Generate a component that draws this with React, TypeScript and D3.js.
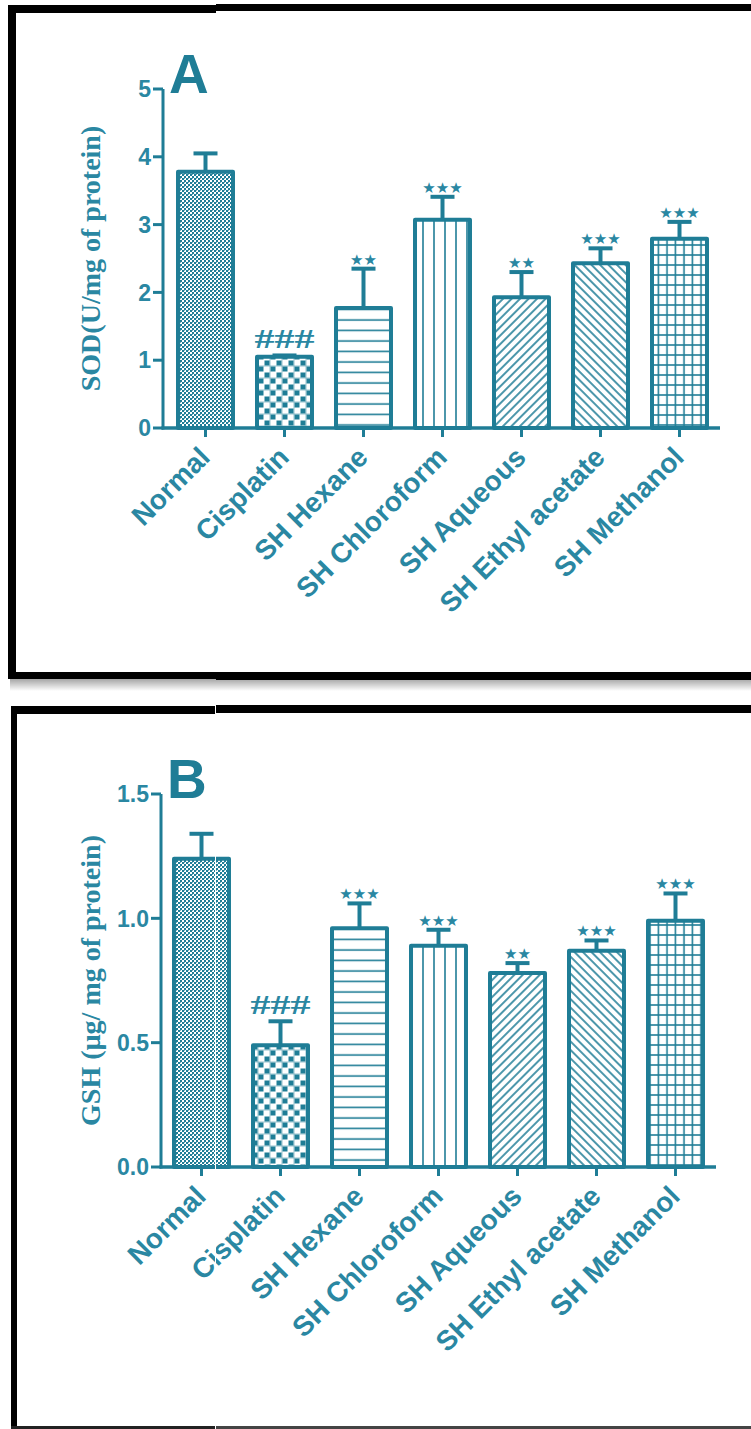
import React from "react";
import * as d3 from "d3";

const categories = ["Normal", "Cisplatin", "SH Hexane", "SH Chloroform", "SH Aqueous", "SH Ethyl acetate", "SH Methanol"];
const sodMean = [3.78, 1.05, 1.77, 3.07, 1.93, 2.43, 2.79];
const sodErr = [0.27, 0.02, 0.58, 0.34, 0.37, 0.22, 0.25];
const sodSig = ["", "###", "**", "***", "**", "***", "***"];
const sodTicks = [0, 1, 2, 3, 4, 5];
const gshMean = [1.24, 0.49, 0.96, 0.89, 0.78, 0.87, 0.99];
const gshErr = [0.1, 0.096, 0.1, 0.064, 0.04, 0.041, 0.11];
const gshSig = ["", "###", "***", "***", "**", "***", "***"];
const gshTicks = [0, 0.5, 1.0, 1.5];
const patternIds = ["pNormal", "pCis", "pHex", "pChl", "pAq", "pEth", "pMeth"];

const TEAL = "#1f7d96";
const TEXT = "#2a87a2";

function Patterns() {
  const sw = 1.6;
  return (
    <defs>
      <pattern id="pNormal" width="4" height="4" patternUnits="userSpaceOnUse">
        <rect width="4" height="4" fill="#ffffff" />
        <rect x="0" y="0" width="2" height="2" fill={TEAL} />
        <rect x="2" y="2" width="2" height="2" fill={TEAL} />
        <rect x="0" y="2" width="1" height="1" fill={TEAL} opacity="0.6" />
      </pattern>
      <pattern id="pCis" width="12" height="12" patternUnits="userSpaceOnUse">
        <rect width="12" height="12" fill="#ffffff" />
        <rect x="0.5" y="0.5" width="5" height="5" fill={TEAL} />
        <rect x="6.5" y="6.5" width="5" height="5" fill={TEAL} />
        <path d="M0,6 H12 M6,0 V12" stroke={TEAL} strokeWidth="0.8" opacity="0.6" />
      </pattern>
      <pattern id="pHex" width="10" height="10.5" patternUnits="userSpaceOnUse">
        <rect width="10" height="10.5" fill="#fff" />
        <line x1="0" y1="5" x2="10" y2="5" stroke={TEAL} strokeWidth={sw} />
      </pattern>
      <pattern id="pChl" width="11" height="10" patternUnits="userSpaceOnUse">
        <rect width="11" height="10" fill="#fff" />
        <line x1="5" y1="0" x2="5" y2="10" stroke={TEAL} strokeWidth={sw} />
      </pattern>
      <pattern id="pAq" width="6" height="6" patternUnits="userSpaceOnUse" patternTransform="rotate(45)">
        <rect width="6" height="6" fill="#fff" />
        <line x1="3" y1="0" x2="3" y2="6" stroke={TEAL} strokeWidth={sw} />
      </pattern>
      <pattern id="pEth" width="6" height="6" patternUnits="userSpaceOnUse" patternTransform="rotate(-45)">
        <rect width="6" height="6" fill="#fff" />
        <line x1="3" y1="0" x2="3" y2="6" stroke={TEAL} strokeWidth={sw} />
      </pattern>
      <pattern id="pMeth" width="8.5" height="10" patternUnits="userSpaceOnUse">
        <rect width="8.5" height="10" fill="#fff" />
        <line x1="4" y1="0" x2="4" y2="10" stroke={TEAL} strokeWidth={sw} />
        <line x1="0" y1="5" x2="8.5" y2="5" stroke={TEAL} strokeWidth={sw} />
      </pattern>
      <linearGradient id="shadow" x1="0" y1="0" x2="0" y2="1">
        <stop offset="0" stopColor="#000" stopOpacity="0.35" />
        <stop offset="1" stopColor="#000" stopOpacity="0" />
      </linearGradient>
    </defs>
  );
}

type PanelProps = {
  letter: string;
  ylabel: string;
  means: number[];
  errs: number[];
  sigs: string[];
  ticks: number[];
  tickFmt: (v: number) => string;
  yDomain: [number, number];
  yRange: [number, number];
  axisX: number;
  xRange: [number, number];
};

function Panel(p: PanelProps) {
  const y = d3.scaleLinear().domain(p.yDomain).range(p.yRange);
  const x = d3.scaleBand<string>().domain(categories).range(p.xRange).paddingInner(0.304).paddingOuter(0.152);
  const y0 = y(0);
  const bw = x.bandwidth();
  const axisEnd = p.xRange[1] + 1;
  const capW = 24;
  return (
    <g>
      {categories.map((c, i) => {
        const bx = x(c)!;
        const top = y(p.means[i]);
        const cx = bx + bw / 2;
        const et = y(p.means[i] + p.errs[i]);
        return (
          <g key={c}>
            <line x1={cx} x2={cx} y1={top} y2={et} stroke={TEAL} strokeWidth={4} />
            <line x1={cx - capW / 2} x2={cx + capW / 2} y1={et} y2={et} stroke={TEAL} strokeWidth={4} />
            <rect x={bx} y={top} width={bw} height={y0 - top} fill={`url(#${patternIds[i]})`} stroke={TEAL} strokeWidth={4} strokeLinejoin="round" />
            {p.sigs[i] === "###" ? (
              <text x={cx} y={et - 7} textAnchor="middle" fontFamily="'Liberation Serif', serif" fontWeight="bold" fontSize={28} fill={TEXT} textLength={60} lengthAdjust="spacingAndGlyphs">###</text>
            ) : p.sigs[i] ? (
              <text x={cx} y={et - 4} textAnchor="middle" fontFamily="'DejaVu Sans', sans-serif" fontSize={15} fill={TEXT}>{p.sigs[i].replace(/\*/g, "\u2605")}</text>
            ) : null}
          </g>
        );
      })}
      <line x1={p.axisX} x2={p.axisX} y1={y0 + 1.5} y2={y(p.yDomain[1])} stroke={TEAL} strokeWidth={3} />
      {p.ticks.map((t) => (
        <g key={t}>
          <line x1={p.axisX - 10} x2={p.axisX} y1={y(t)} y2={y(t)} stroke={TEAL} strokeWidth={3} />
          <text x={p.axisX - 12} y={y(t)} dy="0.36em" textAnchor="end" fontFamily="'Liberation Sans', Arial, sans-serif" fontWeight="bold" fontSize={23} fill={TEXT}>{p.tickFmt(t)}</text>
        </g>
      ))}
      <line x1={p.axisX - 1.5} x2={axisEnd} y1={y0} y2={y0} stroke={TEAL} strokeWidth={3.5} />
      {categories.map((c) => {
        const cx = x(c)! + bw / 2;
        return (
          <g key={c}>
            <line x1={cx} x2={cx} y1={y0} y2={y0 + 9} stroke={TEAL} strokeWidth={3} />
            <text transform={`translate(${cx + 6},${y0 + 31}) rotate(-45)`} textAnchor="end" fontFamily="'Liberation Sans', Arial, sans-serif" fontWeight="bold" fontSize={28} fill={TEXT}>{c}</text>
          </g>
        );
      })}
      <text x={p.axisX + 6} y={y(p.yDomain[1]) + 4} fontFamily="'Liberation Sans', Arial, sans-serif" fontWeight="bold" fontSize={55} fill={TEAL}>{p.letter}</text>
      <text transform={`translate(100,${(y0 + y(p.yDomain[1])) / 2}) rotate(-90)`} textAnchor="middle" fontFamily="'Liberation Serif', 'Times New Roman', serif" fontWeight="bold" fontSize={28} fill={TEXT}>{p.ylabel}</text>
    </g>
  );
}

export default function App() {
  return (
    <svg width={751} height={1429} style={{ position: "absolute", left: 0, top: 0, background: "#fff" }}>
      <Patterns />
      <rect width={751} height={1429} fill="#fff" />
      <rect x={8} y={5} width={208} height={8} fill="#000" />
      <rect x={216} y={4} width={535} height={7} fill="#000" />
      <rect x={8} y={5} width={8} height={674} fill="#000" />
      <rect x={8} y={672} width={208} height={7} fill="#000" />
      <rect x={216} y={672} width={535} height={8} fill="#000" />
      <rect x={10} y={679} width={741} height={12} fill="url(#shadow)" />
      <rect x={11} y={706} width={204} height={8} fill="#000" />
      <rect x={216} y={705} width={535} height={8} fill="#000" />
      <rect x={11} y={706} width={6} height={723} fill="#000" />
      <rect x={11} y={1426} width={204} height={3} fill="#222" />
      <rect x={216} y={1426} width={535} height={3} fill="#444" />

      <Panel
        letter="A"
        ylabel="SOD(U/mg of protein)"
        means={sodMean}
        errs={sodErr}
        sigs={sodSig}
        ticks={sodTicks}
        tickFmt={(v) => d3.format("d")(v)}
        yDomain={[0, 5]}
        yRange={[428, 89]}
        axisX={163}
        xRange={[166, 719]}
      />
      <Panel
        letter="B"
        ylabel="GSH (µg/ mg of protein)"
        means={gshMean}
        errs={gshErr}
        sigs={gshSig}
        ticks={gshTicks}
        tickFmt={(v) => d3.format(".1f")(v)}
        yDomain={[0, 1.5]}
        yRange={[1167, 794]}
        axisX={161}
        xRange={[162, 715]}
      />
      <line x1={215.5} x2={215.5} y1={714} y2={1429} stroke="#fff" strokeWidth={1} />
    </svg>
  );
}
